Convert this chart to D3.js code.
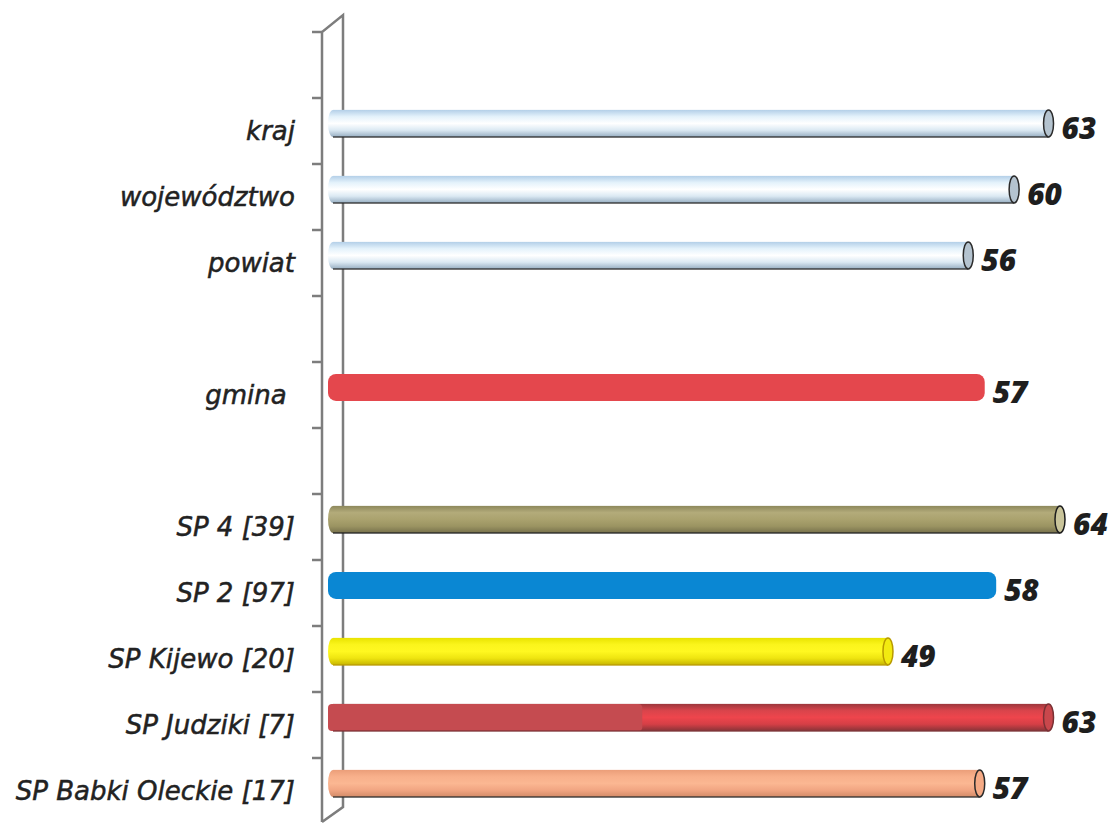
<!DOCTYPE html>
<html>
<head>
<meta charset="utf-8">
<script src="https://cdn.jsdelivr.net/npm/d3@7"></script>
<style>
  body { margin: 0; background: #fff; }
  svg { display: block; }
</style>
</head>
<body>
<svg id="chart" width="1113" height="824"></svg>
<script>
// categories top to bottom, empty strings are the gaps between groups
var categories = ["", "kraj", "województwo", "powiat", "", "gmina\u00a0", "",
                  "SP 4 [39]", "SP 2 [97]", "SP Kijewo [20]", "SP Judziki [7]", "SP Babki Oleckie [17]"];
var values = [null, 63, 60, 56, null, 57, null, 64, 58, 49, 63, 57];
var barStyle = [null, "glass", "glass", "glass", null, "flatRed", null, "olive", "flatBlue", "yellow", "red", "salmon"];

var styles = {
  glass:    {stops: ["#b3cfe8", "#e4f2fb", "#ffffff", "#dbe9f3", "#97aec2"], cap: "#b4c3cf", edge: "#2a2a2a"},
  olive:    {stops: ["#8d885c", "#b3ab7a", "#aaa26e", "#9b9462", "#77714c"], cap: "#c9c49a", edge: "#1e1e1e"},
  yellow:   {stops: ["#e9e300", "#fbf51c", "#fff820", "#efe510", "#c7b500"], cap: "#f2ea10", edge: "#b89a00"},
  red:      {stops: ["#9c373c", "#d9444b", "#ee454c", "#d53f46", "#873438"], cap: "#c9474c", edge: "#7a3034", flat: "#c54b50"},
  salmon:   {stops: ["#eb9e79", "#f8b08b", "#fbb792", "#f1a582", "#d38b68"], cap: "#f5aa85", edge: "#2a2a2a"},
  flatRed:  {flat: "#e4474d"},
  flatBlue: {flat: "#0a87d3"}
};

var svg = d3.select("#chart");

var y = d3.scaleBand()
  .domain(d3.range(categories.length))
  .range([32, 824]);

var x = d3.scaleLinear()
  .domain([0, 64])
  .range([331, 1065]);

var bw = y.bandwidth();
var barH = bw * 0.41;
var barOff = bw * 0.18;

// gradients
var defs = svg.append("defs");
Object.keys(styles).forEach(function(k){
  var s = styles[k];
  if(!s.stops) return;
  var g = defs.append("linearGradient").attr("id", "g-" + k)
    .attr("x1", 0).attr("y1", 0).attr("x2", 0).attr("y2", 1);
  s.stops.forEach(function(c, i){
    g.append("stop").attr("offset", i / (s.stops.length - 1)).attr("stop-color", c);
  });
});

// 3D wall of the category axis
var wallL = x(0) - 9, wallR = x(0) + 12;
var yTop = y.range()[0], yBottom = y.range()[1] - 2;
svg.append("path")
  .attr("d", "M" + wallL + "," + yBottom + "V" + yTop + "L" + wallR + "," + (yTop - 17) +
             "V" + (yBottom - 15) + "L" + wallL + "," + yBottom)
  .attr("fill", "none").attr("stroke", "#7d7d7d").attr("stroke-width", 2.5);

svg.selectAll(".tick")
  .data(d3.range(categories.length))
  .enter().append("line")
  .attr("x1", wallL - 10).attr("x2", wallL)
  .attr("y1", function(i){ return y(i); })
  .attr("y2", function(i){ return y(i); })
  .attr("stroke", "#7d7d7d").attr("stroke-width", 2.5);

// category labels
svg.selectAll(".cat")
  .data(categories)
  .enter().append("text")
  .attr("x", 295)
  .attr("y", function(d, i){ return y(i) + bw / 2; })
  .attr("dy", "0.36em")
  .attr("text-anchor", "end")
  .style("font-family", "'DejaVu Sans', sans-serif")
  .style("font-style", "italic")
  .style("font-size", "26px")
  .style("fill", "#222")
  .style("stroke", "#222")
  .style("stroke-width", 0.5)
  .text(function(d){ return d; });

// bars
var rows = d3.range(categories.length).filter(function(i){ return values[i] != null; });

rows.forEach(function(i){
  var s = styles[barStyle[i]];
  var x0 = x(0), x1 = x(values[i]);
  var yt = y(i) + barOff;
  var g = svg.append("g");
  if(!s.stops){
    g.append("rect")
      .attr("x", x0 - 3).attr("y", yt).attr("width", x1 - x0 + 3).attr("height", barH)
      .attr("rx", 8).attr("fill", s.flat);
    return;
  }
  g.append("ellipse")
    .attr("cx", x0 + 2).attr("cy", yt + barH / 2).attr("rx", 5).attr("ry", barH / 2)
    .attr("fill", "url(#g-" + barStyle[i] + ")");
  g.append("rect")
    .attr("x", x0 + 2).attr("y", yt).attr("width", x1 - x0 - 7).attr("height", barH)
    .attr("fill", "url(#g-" + barStyle[i] + ")");
  if(s.flat){
    g.append("rect")
      .attr("x", x0 - 3).attr("y", yt).attr("width", (x1 - x0) * 0.435).attr("height", barH)
      .attr("rx", 4).attr("fill", s.flat);
  }
  // bottom edge
  g.append("line")
    .attr("x1", x0 + 2).attr("x2", x1 - 5)
    .attr("y1", yt + barH).attr("y2", yt + barH)
    .attr("stroke", s.edge).attr("stroke-width", 1.6).attr("opacity", 0.85);
  // end cap
  g.append("ellipse")
    .attr("cx", x1 - 5).attr("cy", yt + barH / 2).attr("rx", 5).attr("ry", barH / 2)
    .attr("fill", s.cap).attr("stroke", s.edge).attr("stroke-width", 1.5);
});

// value labels
svg.selectAll(".val")
  .data(rows)
  .enter().append("text")
  .attr("x", function(i){ return x(values[i]) + 8; })
  .attr("y", function(i){ return y(i) + bw / 2 - 3; })
  .attr("dy", "0.36em")
  .style("font-family", "'Open Sans', sans-serif")
  .style("font-style", "italic")
  .style("font-weight", 800)
  .style("font-size", "30px")
  .style("fill", "#1e1e1e")
  .text(function(i){ return values[i]; });
</script>
</body>
</html>
